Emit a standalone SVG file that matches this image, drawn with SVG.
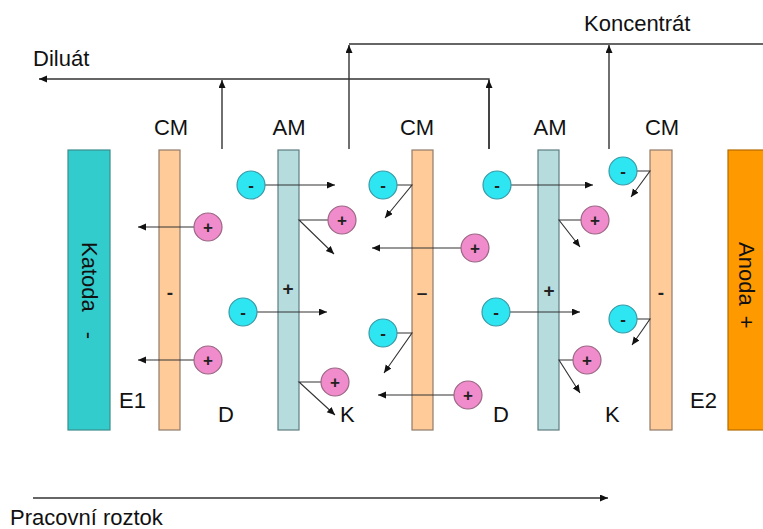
<svg xmlns="http://www.w3.org/2000/svg" width="763" height="529" viewBox="0 0 763 529">
  <defs>
    <style>
      .lbl { font-family: "Liberation Sans", Arial, sans-serif; font-size: 22px; fill: #111; }
      .sign { font-family: "Liberation Sans", Arial, sans-serif; font-size: 19px; font-weight: bold; fill: #222; text-anchor: middle; }
      .ionsign { font-family: "Liberation Sans", Arial, sans-serif; font-size: 17px; font-weight: bold; fill: #222; text-anchor: middle; }
      .cm { fill: #FFCC99; stroke: #8f7b6c; stroke-width: 1.2; }
      .am { fill: #B7DCDE; stroke: #5f7d80; stroke-width: 1.2; }
      .flow { fill: none; stroke: #333; stroke-width: 1.4; }
      .mv { fill: none; stroke: #333; stroke-width: 1.1; }
      .neg { fill: #2EE6F2; stroke: #3a9aa6; stroke-width: 1.2; }
      .pos { fill: #F08CCB; stroke: #9a6784; stroke-width: 1.2; }
    </style>
    <marker id="arr" markerUnits="userSpaceOnUse" markerWidth="9" markerHeight="8" refX="8" refY="3.5" orient="auto">
      <path d="M0,0 L8,3.5 L0,7 z" fill="#111"/>
    </marker>
  </defs>

  <rect width="763" height="529" fill="#fff"/>

  <!-- electrodes -->
  <g id="katoda">
    <rect x="68" y="150" width="42" height="280" fill="#33CCCC" stroke="#3a8d8d" stroke-width="1.2"/>
    <text class="lbl" transform="translate(82,242) rotate(90)">Katoda<tspan dx="20">-</tspan></text>
  </g>
  <g id="anoda">
    <rect x="728" y="150" width="40" height="280" fill="#FF9900" stroke="#b36b00" stroke-width="1.2"/>
    <text class="lbl" transform="translate(739,242) rotate(90)">Anoda<tspan dx="10">+</tspan></text>
  </g>

  <!-- membranes -->
  <g id="cm1">
    <rect class="cm" x="159" y="150" width="21" height="280"/>
    <text class="sign" x="170" y="299">-</text>
    <text class="lbl" x="171" y="135" text-anchor="middle">CM</text>
  </g>
  <g id="am1">
    <rect class="am" x="278" y="150" width="21" height="280"/>
    <text class="sign" x="288" y="295">+</text>
    <text class="lbl" x="289" y="135" text-anchor="middle">AM</text>
  </g>
  <g id="cm2">
    <rect class="cm" x="412" y="150" width="21" height="280"/>
    <text class="sign" x="422" y="299">–</text>
    <text class="lbl" x="417" y="135" text-anchor="middle">CM</text>
  </g>
  <g id="am2">
    <rect class="am" x="538" y="150" width="21" height="280"/>
    <text class="sign" x="549" y="297">+</text>
    <text class="lbl" x="550" y="135" text-anchor="middle">AM</text>
  </g>
  <g id="cm3">
    <rect class="cm" x="650" y="150" width="22" height="280"/>
    <text class="sign" x="661" y="299">-</text>
    <text class="lbl" x="662" y="135" text-anchor="middle">CM</text>
  </g>

  <!-- compartment labels -->
  <g id="compartments">
    <text class="lbl" x="119" y="408">E1</text>
    <text class="lbl" x="218" y="422">D</text>
    <text class="lbl" x="340" y="422">K</text>
    <text class="lbl" x="493" y="422">D</text>
    <text class="lbl" x="605" y="422">K</text>
    <text class="lbl" x="690" y="408">E2</text>
  </g>

  <!-- connectors: stream lines and ion paths -->
  <g id="connectors">
    <path class="flow" d="M489,149 V79 H39" marker-end="url(#arr)"/>
    <path class="flow" d="M489,149 V80" marker-end="url(#arr)"/>
    <path class="flow" d="M222,149 V80" marker-end="url(#arr)"/>
    <path class="flow" d="M349,44 H763"/>
    <path class="flow" d="M349,149 V45" marker-end="url(#arr)"/>
    <path class="flow" d="M609,149 V45" marker-end="url(#arr)"/>
    <path class="flow" d="M33,498 H608" marker-end="url(#arr)"/>

    <path class="mv" d="M265,185 H335" marker-end="url(#arr)"/>
    <path class="mv" d="M194,227 H138" marker-end="url(#arr)"/>
    <path class="mv" d="M328,220 H299 L334,254" marker-end="url(#arr)"/>
    <path class="mv" d="M257,312 H327" marker-end="url(#arr)"/>
    <path class="mv" d="M194,360 H138" marker-end="url(#arr)"/>
    <path class="mv" d="M321,382 H299 L335,415" marker-end="url(#arr)"/>
    <path class="mv" d="M397,185 H412 L385,218" marker-end="url(#arr)"/>
    <path class="mv" d="M511,185 H593" marker-end="url(#arr)"/>
    <path class="mv" d="M637,171 H650 L631,197" marker-end="url(#arr)"/>
    <path class="mv" d="M581,220 H559 L580,247" marker-end="url(#arr)"/>
    <path class="mv" d="M461,248 H372" marker-end="url(#arr)"/>
    <path class="mv" d="M397,333 H412 L384,373" marker-end="url(#arr)"/>
    <path class="mv" d="M510,312 H580" marker-end="url(#arr)"/>
    <path class="mv" d="M637,319 H650 L632,345" marker-end="url(#arr)"/>
    <path class="mv" d="M573,360 H559 L580,393" marker-end="url(#arr)"/>
    <path class="mv" d="M454,395 H378" marker-end="url(#arr)"/>
  </g>

  <!-- ions -->
  <g id="anion-1"><circle class="neg" cx="251" cy="185" r="14"/><text class="ionsign" x="251" y="191">-</text></g>
  <g id="cation-1"><circle class="pos" cx="208" cy="227" r="14"/><text class="ionsign" x="208" y="233">+</text></g>
  <g id="cation-2"><circle class="pos" cx="342" cy="220" r="14"/><text class="ionsign" x="342" y="226">+</text></g>
  <g id="anion-2"><circle class="neg" cx="243" cy="312" r="14"/><text class="ionsign" x="243" y="318">-</text></g>
  <g id="cation-3"><circle class="pos" cx="208" cy="360" r="14"/><text class="ionsign" x="208" y="366">+</text></g>
  <g id="cation-4"><circle class="pos" cx="335" cy="382" r="14"/><text class="ionsign" x="335" y="388">+</text></g>
  <g id="anion-3"><circle class="neg" cx="383" cy="185" r="14"/><text class="ionsign" x="383" y="191">-</text></g>
  <g id="anion-4"><circle class="neg" cx="497" cy="185" r="14"/><text class="ionsign" x="497" y="191">-</text></g>
  <g id="anion-5"><circle class="neg" cx="623" cy="171" r="14"/><text class="ionsign" x="623" y="177">-</text></g>
  <g id="cation-5"><circle class="pos" cx="595" cy="220" r="14"/><text class="ionsign" x="595" y="226">+</text></g>
  <g id="cation-6"><circle class="pos" cx="475" cy="248" r="14"/><text class="ionsign" x="475" y="254">+</text></g>
  <g id="anion-6"><circle class="neg" cx="383" cy="333" r="14"/><text class="ionsign" x="383" y="339">-</text></g>
  <g id="anion-7"><circle class="neg" cx="496" cy="312" r="14"/><text class="ionsign" x="496" y="318">-</text></g>
  <g id="anion-8"><circle class="neg" cx="623" cy="319" r="14"/><text class="ionsign" x="623" y="325">-</text></g>
  <g id="cation-7"><circle class="pos" cx="587" cy="360" r="14"/><text class="ionsign" x="587" y="366">+</text></g>
  <g id="cation-8"><circle class="pos" cx="468" cy="395" r="14"/><text class="ionsign" x="468" y="401">+</text></g>

  <!-- stream labels -->
  <g id="stream-labels">
    <text class="lbl" x="33" y="66">Diluát</text>
    <text class="lbl" x="584" y="31">Koncentrát</text>
    <text class="lbl" x="10" y="525">Pracovní roztok</text>
  </g>
</svg>
